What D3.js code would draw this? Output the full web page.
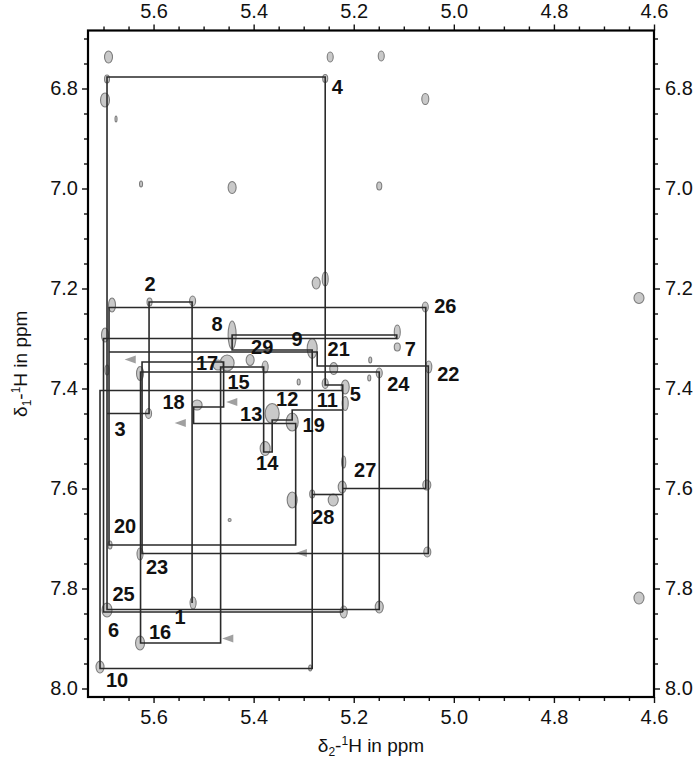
<!DOCTYPE html>
<html lang="en">
<head>
<meta charset="UTF-8">
<title>NOESY walk</title>
<script src="https://d3js.org/d3.v7.min.js"></script>
<style>
    body { margin: 0; background: #fff; }
    svg { font-family: "Liberation Sans", Arial, sans-serif; }
    .walk { fill: none; stroke: #2a2a2a; stroke-width: 1.6; }
    .peak { fill: #c9c9c9; stroke: #7d7d7d; stroke-width: 1.1; }
    .artifact { fill: #a0a0a0; }
    .lbl { font-weight: bold; font-size: 20px; fill: #111; text-anchor: middle; dominant-baseline: central; }
    .axis text { font-size: 20px; fill: #111; }
    .axis line { stroke: #111; stroke-width: 1.4; }
    .title { font-size: 19px; fill: #111; text-anchor: middle; }
</style>
</head>
<body>
<div id="spectrum"></div>
<script>

// axis limits (ppm)
var d2Range = [5.731, 4.6];
var d1Range = [6.684, 8.017];
var majorTicks2 = [5.6, 5.4, 5.2, 5.0, 4.8, 4.6];
var majorTicks1 = [6.8, 7.0, 7.2, 7.4, 7.6, 7.8, 8.0];
var minorTicks2 = [5.7, 5.65, 5.55, 5.5, 5.45, 5.35, 5.3, 5.25, 5.15, 5.1, 5.05, 4.95, 4.9, 4.85, 4.75, 4.7, 4.65];
var minorTicks1 = [6.7, 6.75, 6.85, 6.9, 6.95, 7.05, 7.1, 7.15, 7.25, 7.3, 7.35, 7.45, 7.5, 7.55, 7.65, 7.7, 7.75, 7.85, 7.9, 7.95];

// cross peaks: [delta2, delta1, half width d2, half width d1]
var peaks = [
    [5.690, 6.737, 0.008, 0.012], [5.693, 6.781, 0.005, 0.008], [5.697, 6.823, 0.009, 0.014],
    [5.675, 6.861, 0.002, 0.006], [5.625, 6.991, 0.003, 0.006], [5.443, 6.998, 0.008, 0.012],
    [5.257, 6.780, 0.005, 0.008], [5.247, 6.737, 0.006, 0.010], [5.145, 6.735, 0.006, 0.010],
    [5.057, 6.821, 0.007, 0.011], [5.149, 6.995, 0.005, 0.008], [5.275, 7.189, 0.008, 0.012],
    [5.257, 7.181, 0.006, 0.014], [4.630, 7.219, 0.010, 0.011], [4.630, 7.819, 0.010, 0.012],
    [5.683, 7.233, 0.007, 0.014], [5.697, 7.293, 0.007, 0.014], [5.608, 7.227, 0.005, 0.008],
    [5.522, 7.225, 0.006, 0.010], [5.627, 7.370, 0.007, 0.014], [5.610, 7.450, 0.006, 0.010],
    [5.513, 7.433, 0.010, 0.010], [5.443, 7.293, 0.008, 0.028], [5.453, 7.349, 0.014, 0.016],
    [5.471, 7.353, 0.010, 0.010], [5.407, 7.343, 0.008, 0.011], [5.377, 7.357, 0.006, 0.012],
    [5.283, 7.320, 0.010, 0.020], [5.240, 7.360, 0.008, 0.012], [5.310, 7.387, 0.003, 0.006],
    [5.257, 7.390, 0.006, 0.010], [5.217, 7.397, 0.008, 0.014], [5.217, 7.430, 0.006, 0.014],
    [5.363, 7.450, 0.014, 0.020], [5.323, 7.467, 0.012, 0.018], [5.377, 7.520, 0.010, 0.014],
    [5.113, 7.287, 0.006, 0.014], [5.113, 7.317, 0.006, 0.008], [5.057, 7.237, 0.006, 0.010],
    [5.149, 7.369, 0.006, 0.010], [5.050, 7.357, 0.006, 0.012], [5.167, 7.343, 0.003, 0.006],
    [5.169, 7.379, 0.003, 0.006], [5.220, 7.547, 0.004, 0.012], [5.323, 7.623, 0.010, 0.016],
    [5.241, 7.623, 0.010, 0.012], [5.223, 7.597, 0.008, 0.012], [5.283, 7.611, 0.005, 0.008],
    [5.054, 7.593, 0.008, 0.010], [5.053, 7.727, 0.007, 0.010], [5.220, 7.847, 0.007, 0.012],
    [5.149, 7.837, 0.008, 0.012], [5.287, 7.959, 0.003, 0.006], [5.707, 7.957, 0.008, 0.012],
    [5.627, 7.909, 0.009, 0.014], [5.693, 7.843, 0.010, 0.014], [5.521, 7.829, 0.006, 0.012],
    [5.627, 7.731, 0.006, 0.012], [5.687, 7.713, 0.004, 0.008], [5.693, 7.363, 0.004, 0.010],
    [5.448, 7.663, 0.003, 0.003]
];

// small triangular artefacts: [delta2, delta1]
var artifacts = [[5.643, 7.342], [5.440, 7.427], [5.543, 7.469], [5.301, 7.729], [5.448, 7.900]];

// sequential walk lines, [delta2, delta1] vertices
var walkA = [[5.222,7.847],[5.222,7.393],[5.257,7.393],[5.257,6.777],[5.693,6.777],[5.693,7.842],
    [5.149,7.842],[5.149,7.367],[5.626,7.367],[5.626,7.909],[5.466,7.909],[5.466,7.357],[5.380,7.357],
    [5.380,7.527],[5.363,7.527],[5.363,7.463],[5.323,7.463],[5.323,7.443],[5.222,7.443]];
var walkB = [[5.222,7.847],[5.700,7.847],[5.700,7.300],[5.114,7.300],[5.114,7.293],[5.443,7.293],
    [5.443,7.323],[5.283,7.323],[5.283,7.960],[5.707,7.960],[5.707,7.404],[5.222,7.404]];
var walkC = [[5.222,7.600],[5.056,7.600],[5.056,7.238],[5.689,7.238],[5.689,7.713],[5.316,7.713],
    [5.316,7.470],[5.520,7.470],[5.520,7.437],[5.460,7.437],[5.460,7.347],[5.623,7.347],[5.623,7.730],
    [5.051,7.730],[5.051,7.355],[5.273,7.355],[5.273,7.327],[5.689,7.327]];
var walkD = [[5.693,7.450],[5.609,7.450],[5.609,7.227],[5.523,7.227],[5.523,7.829]];
var walkE = [[5.283,7.612],[5.222,7.612]];

// residue labels: [text, delta2, delta1]
var labels = [
    ["1",5.547,7.857],["2",5.607,7.191],["3",5.667,7.480],["4",5.233,6.797],["5",5.197,7.410],
    ["6",5.680,7.883],["7",5.087,7.320],["8",5.473,7.270],["9",5.313,7.300],["10",5.673,7.983],
    ["11",5.253,7.423],["12",5.333,7.421],["13",5.405,7.451],["14",5.373,7.549],["15",5.430,7.387],
    ["16",5.587,7.887],["17",5.493,7.348],["18",5.560,7.427],["19",5.280,7.473],["20",5.657,7.675],
    ["21",5.230,7.321],["22",5.011,7.370],["23",5.593,7.757],["24",5.111,7.390],["25",5.660,7.811],
    ["26",5.017,7.235],["27",5.177,7.563],["28",5.261,7.657],["29",5.383,7.317]
];

var margin = {top: 30.5, right: 46, bottom: 66, left: 88},
    width = 700 - margin.left - margin.right,
    height = 763 - margin.top - margin.bottom;

var svg = d3.select("#spectrum").append("svg")
    .attr("width", 700)
    .attr("height", 763);

var g = svg.append("g")
    .attr("transform", "translate(" + margin.left + "," + margin.top + ")");

var x = d3.scaleLinear().domain(d2Range).range([0, width]);
var y = d3.scaleLinear().domain(d1Range).range([0, height]);

g.append("clipPath").attr("id", "plotclip")
    .append("rect").attr("width", width).attr("height", height);

var plot = g.append("g").attr("clip-path", "url(#plotclip)");

// peaks
plot.selectAll(".peak")
    .data(peaks).enter()
    .append("ellipse")
    .attr("class", "peak")
    .attr("cx", function(d) { return x(d[0]); })
    .attr("cy", function(d) { return y(d[1]); })
    .attr("rx", function(d) { return Math.abs(x(d[0] + d[2]) - x(d[0])); })
    .attr("ry", function(d) { return Math.abs(y(d[1] + d[3]) - y(d[1])); });

plot.selectAll(".artifact")
    .data(artifacts).enter()
    .append("path")
    .attr("class", "artifact")
    .attr("d", d3.symbol().type(d3.symbolTriangle).size(28))
    .attr("transform", function(d) { return "translate(" + x(d[0]) + "," + y(d[1]) + ") rotate(-90) scale(1,1.6)"; });

// walks
var line = d3.line()
    .x(function(d) { return x(d[0]); })
    .y(function(d) { return y(d[1]); });

plot.selectAll(".walk")
    .data([walkA, walkB, walkC, walkD, walkE]).enter()
    .append("path")
    .attr("class", "walk")
    .attr("d", line);

// labels
g.selectAll(".lbl")
    .data(labels).enter()
    .append("text")
    .attr("class", "lbl")
    .attr("x", function(d) { return x(d[1]); })
    .attr("y", function(d) { return y(d[2]); })
    .text(function(d) { return d[0]; });

// axes: major ticks with labels, minor ticks without
function drawAxis(axisFn, scale, major, minor, transform, pad) {
    var a = g.append("g").attr("class", "axis").attr("transform", transform);
    a.call(axisFn(scale).tickValues(major).tickFormat(d3.format(".1f")).tickSize(6).tickPadding(pad));
    a.select(".domain").remove();
    var m = g.append("g").attr("class", "axis").attr("transform", transform);
    m.call(axisFn(scale).tickValues(minor).tickFormat("").tickSize(4));
    m.select(".domain").remove();
}

drawAxis(d3.axisTop, x, majorTicks2, minorTicks2, "translate(0,0)", 7);
drawAxis(d3.axisBottom, x, majorTicks2, minorTicks2, "translate(0," + height + ")", 7);
drawAxis(d3.axisLeft, y, majorTicks1, minorTicks1, "translate(0,0)", 4);
drawAxis(d3.axisRight, y, majorTicks1, minorTicks1, "translate(" + width + ",0)", 5);

// frame
g.append("rect")
    .attr("width", width)
    .attr("height", height)
    .style("fill", "none")
    .style("stroke", "#000")
    .style("stroke-width", 2.2);

// axis titles
var tx = svg.append("text").attr("class", "title")
    .attr("x", margin.left + width / 2)
    .attr("y", 752);
tx.append("tspan").text("δ");
tx.append("tspan").attr("dy", 4).style("font-size", "12px").text("2");
tx.append("tspan").attr("dy", -4).text("-");
tx.append("tspan").attr("dy", -7).style("font-size", "12px").text("1");
tx.append("tspan").attr("dy", 7).text("H in ppm");

var ty = svg.append("text").attr("class", "title")
    .attr("transform", "translate(27," + (margin.top + height / 2) + ") rotate(-90)");
ty.append("tspan").text("δ");
ty.append("tspan").attr("dy", 4).style("font-size", "12px").text("1");
ty.append("tspan").attr("dy", -4).text("-");
ty.append("tspan").attr("dy", -7).style("font-size", "12px").text("1");
ty.append("tspan").attr("dy", 7).text("H in ppm");

</script>
</body>
</html>
